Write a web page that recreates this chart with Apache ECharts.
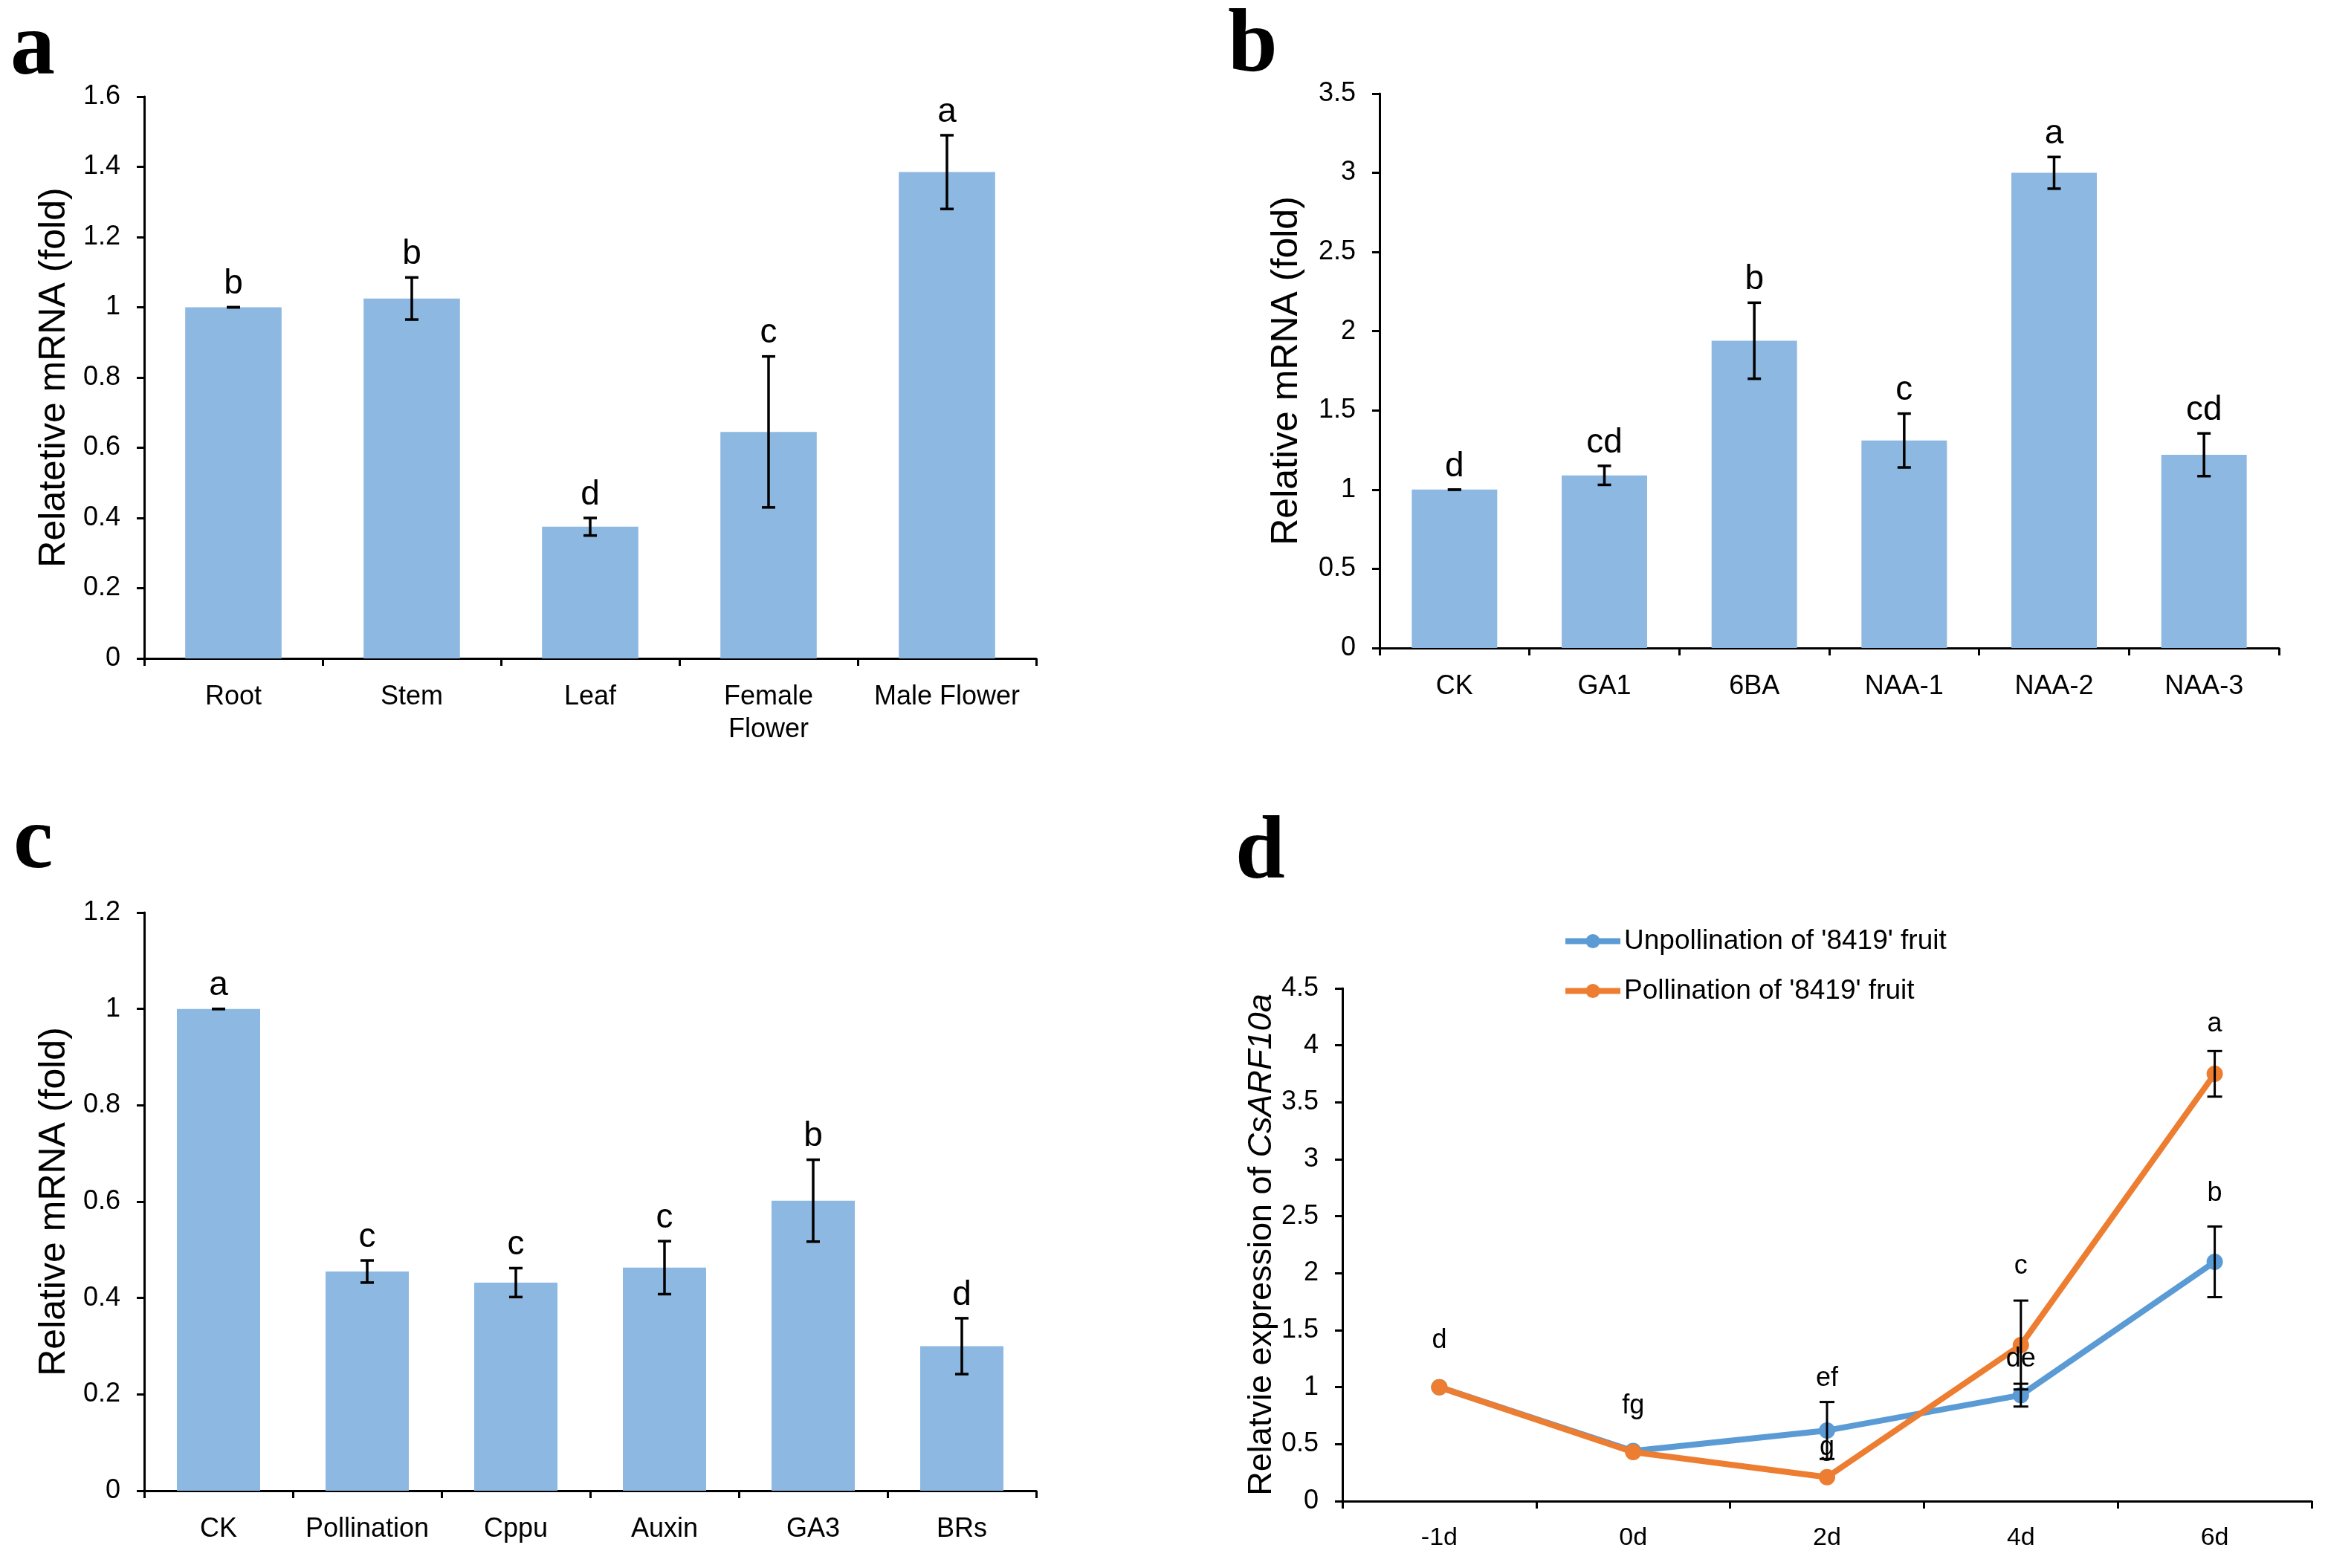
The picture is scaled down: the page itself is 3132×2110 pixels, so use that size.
<!DOCTYPE html>
<html><head><meta charset="utf-8">
<script src="https://cdn.jsdelivr.net/npm/echarts@6/dist/echarts.min.js"></script>
<style>html,body{margin:0;padding:0;background:#fff}#c{width:3132px;height:2110px}</style>
</head><body><div id="c"></div>
<script>
// ---------- data ----------
const catsA = ['Root', 'Stem', 'Leaf', 'Female\nFlower', 'Male Flower'];
const valsA = [1.0, 1.025, 0.375, 0.645, 1.385];
const errA  = [0.0, 0.06, 0.025, 0.215, 0.105];
const sigA  = ['b', 'b', 'd', 'c', 'a'];

const catsB = ['CK', 'GA1', '6BA', 'NAA-1', 'NAA-2', 'NAA-3'];
const valsB = [1.0, 1.09, 1.94, 1.31, 3.0, 1.22];
const errB  = [0.0, 0.06, 0.24, 0.17, 0.10, 0.135];
const sigB  = ['d', 'cd', 'b', 'c', 'a', 'cd'];

const catsC = ['CK', 'Pollination', 'Cppu', 'Auxin', 'GA3', 'BRs'];
const valsC = [1.0, 0.455, 0.432, 0.463, 0.602, 0.30];
const errC  = [0.0, 0.023, 0.03, 0.055, 0.085, 0.058];
const sigC  = ['a', 'c', 'c', 'c', 'b', 'd'];

const catsD = ['-1d', '0d', '2d', '4d', '6d'];
const unpollVals = [1.0, 0.44, 0.62, 0.93, 2.10];
const unpollErr  = [0, 0, 0.25, 0.10, 0.31];
const pollVals   = [1.0, 0.43, 0.21, 1.37, 3.75];
const pollErr    = [0, 0, 0, 0.39, 0.20];
const sigDCat  = [0, 1, 2, 2, 3, 3, 4, 4];
const sigDY    = [1.29, 0.72, 0.96, 0.35, 1.94, 1.13, 4.07, 2.58];
const sigDText = ['d', 'fg', 'ef', 'g', 'c', 'de', 'a', 'b'];

// ---------- styles ----------
const SANS = '"Liberation Sans", Arial, sans-serif';
const SERIF = '"Liberation Serif", "Times New Roman", serif';
const BAR = '#8DB8E1';
const BLUE = '#5B9BD5';
const ORANGE = '#ED7D31';

function yAxis(idx, max, interval, name, fs, gap, rich) {
  return {
    type: 'value', gridIndex: idx, min: 0, max: max, interval: interval,
    name: name, nameLocation: 'middle', nameGap: gap,
    nameTextStyle: { fontFamily: SANS, fontSize: fs, color: '#000', rich: rich },
    axisLine: { show: true, lineStyle: { color: '#000', width: 3 } },
    axisTick: { show: true, length: 10, lineStyle: { color: '#000', width: 3 } },
    axisLabel: { fontFamily: SANS, fontSize: 36, color: '#000', margin: 32 },
    splitLine: { show: false }
  };
}
function xAxis(idx, cats, fs, margin) {
  return {
    type: 'category', gridIndex: idx, data: cats,
    axisLine: { lineStyle: { color: '#000', width: 3 } },
    axisTick: { show: true, length: 10, lineStyle: { color: '#000', width: 3 } },
    axisLabel: { fontFamily: SANS, fontSize: fs, color: '#000', margin: margin, lineHeight: 44, interval: 0 },
    splitLine: { show: false }
  };
}
function errSeries(idx, vals, errs, letters, opts) {
  opts = opts || {};
  return {
    type: 'custom', xAxisIndex: idx, yAxisIndex: idx, z: 10, clip: false,
    data: vals.map((v, i) => [i, v, errs[i]]),
    renderItem: function (params, api) {
      const i = api.value(0), v = api.value(1), e = api.value(2);
      if (opts.skipZero && !e) return { type: 'group', children: [] };
      const t = api.coord([i, v + e]), b = api.coord([i, v - e]);
      const cw = opts.cap || 9;
      const st = { stroke: '#000', lineWidth: opts.lw || 3.5 };
      const ch = [
        { type: 'line', shape: { x1: t[0], y1: t[1], x2: b[0], y2: b[1] }, style: st },
        { type: 'line', shape: { x1: t[0] - cw, y1: t[1], x2: t[0] + cw, y2: t[1] }, style: st },
        { type: 'line', shape: { x1: b[0] - cw, y1: b[1], x2: b[0] + cw, y2: b[1] }, style: st }
      ];
      if (letters) {
        ch.push({ type: 'text', x: t[0], y: t[1] - 8,
          style: { text: letters[params.dataIndex], fill: '#000', font: '46px ' + SANS, textAlign: 'center', textVerticalAlign: 'bottom' } });
      }
      return { type: 'group', children: ch };
    }
  };
}
function barSeries(idx, vals, w) {
  return { type: 'bar', xAxisIndex: idx, yAxisIndex: idx, data: vals, barWidth: w, itemStyle: { color: BAR } };
}

const chart = echarts.init(document.getElementById('c'), null, { renderer: 'canvas' });
const option = {
  backgroundColor: '#fff',
  animation: false,
  grid: [
    { left: 194, top: 130, width: 1200, height: 756 },
    { left: 1856, top: 126, width: 1210, height: 746 },
    { left: 194, top: 1228, width: 1200, height: 778 },
    { left: 1806, top: 1330, width: 1304, height: 690 }
  ],
  xAxis: [xAxis(0, catsA, 36, 30), xAxis(1, catsB, 36, 30), xAxis(2, catsC, 36, 30), xAxis(3, catsD, 34, 28)],
  yAxis: [
    yAxis(0, 1.6, 0.2, 'Relatetive mRNA (fold)', 50, 96),
    yAxis(1, 3.5, 0.5, 'Relative mRNA (fold)', 50, 100),
    yAxis(2, 1.2, 0.2, 'Relative mRNA (fold)', 50, 96),
    yAxis(3, 4.5, 0.5, '{n|Relatvie expression of }{i|CsARF10a}', 45, 76,
      { n: { fontFamily: SANS, fontSize: 45, color: '#000' }, i: { fontFamily: SANS, fontSize: 45, fontStyle: 'italic', color: '#000' } })
  ],
  legend: {
    orient: 'vertical', left: 2097, top: 1243, itemGap: 30, itemWidth: 74, itemHeight: 24,
    textStyle: { fontFamily: SANS, fontSize: 37, color: '#000' },
    lineStyle: { width: 8 },
    data: ["Unpollination of '8419' fruit", "Pollination of '8419' fruit"]
  },
  graphic: [
    { type: 'text', left: 14, top: 8, style: { text: 'a', font: 'bold 120px ' + SERIF, fill: '#000' } },
    { type: 'text', left: 1652, top: 4, style: { text: 'b', font: 'bold 120px ' + SERIF, fill: '#000' } },
    { type: 'text', left: 18, top: 1076, style: { text: 'c', font: 'bold 120px ' + SERIF, fill: '#000' } },
    { type: 'text', left: 1662, top: 1090, style: { text: 'd', font: 'bold 120px ' + SERIF, fill: '#000' } }
  ],
  series: [
    barSeries(0, valsA, '54%'), errSeries(0, valsA, errA, sigA),
    barSeries(1, valsB, '57%'), errSeries(1, valsB, errB, sigB),
    barSeries(2, valsC, '56%'), errSeries(2, valsC, errC, sigC),
    {
      name: "Unpollination of '8419' fruit", type: 'line', xAxisIndex: 3, yAxisIndex: 3, data: unpollVals,
      symbol: 'circle', symbolSize: 22, lineStyle: { color: BLUE, width: 8 }, itemStyle: { color: BLUE }, z: 3
    },
    {
      name: "Pollination of '8419' fruit", type: 'line', xAxisIndex: 3, yAxisIndex: 3, data: pollVals,
      symbol: 'circle', symbolSize: 22, lineStyle: { color: ORANGE, width: 8 }, itemStyle: { color: ORANGE }, z: 4
    },
    errSeries(3, unpollVals, unpollErr, null, { skipZero: true, cap: 10, lw: 3 }),
    errSeries(3, pollVals, pollErr, null, { skipZero: true, cap: 10, lw: 3 }),
    {
      type: 'custom', xAxisIndex: 3, yAxisIndex: 3, z: 12, clip: false,
      data: sigDCat.map((c, i) => [c, sigDY[i]]),
      renderItem: function (params, api) {
        const p = api.coord([api.value(0), api.value(1)]);
        return { type: 'text', x: p[0], y: p[1],
          style: { text: sigDText[params.dataIndex], fill: '#000', font: '36px ' + SANS, textAlign: 'center', textVerticalAlign: 'bottom' } };
      }
    }
  ]
};
chart.setOption(option);
</script></body></html>
